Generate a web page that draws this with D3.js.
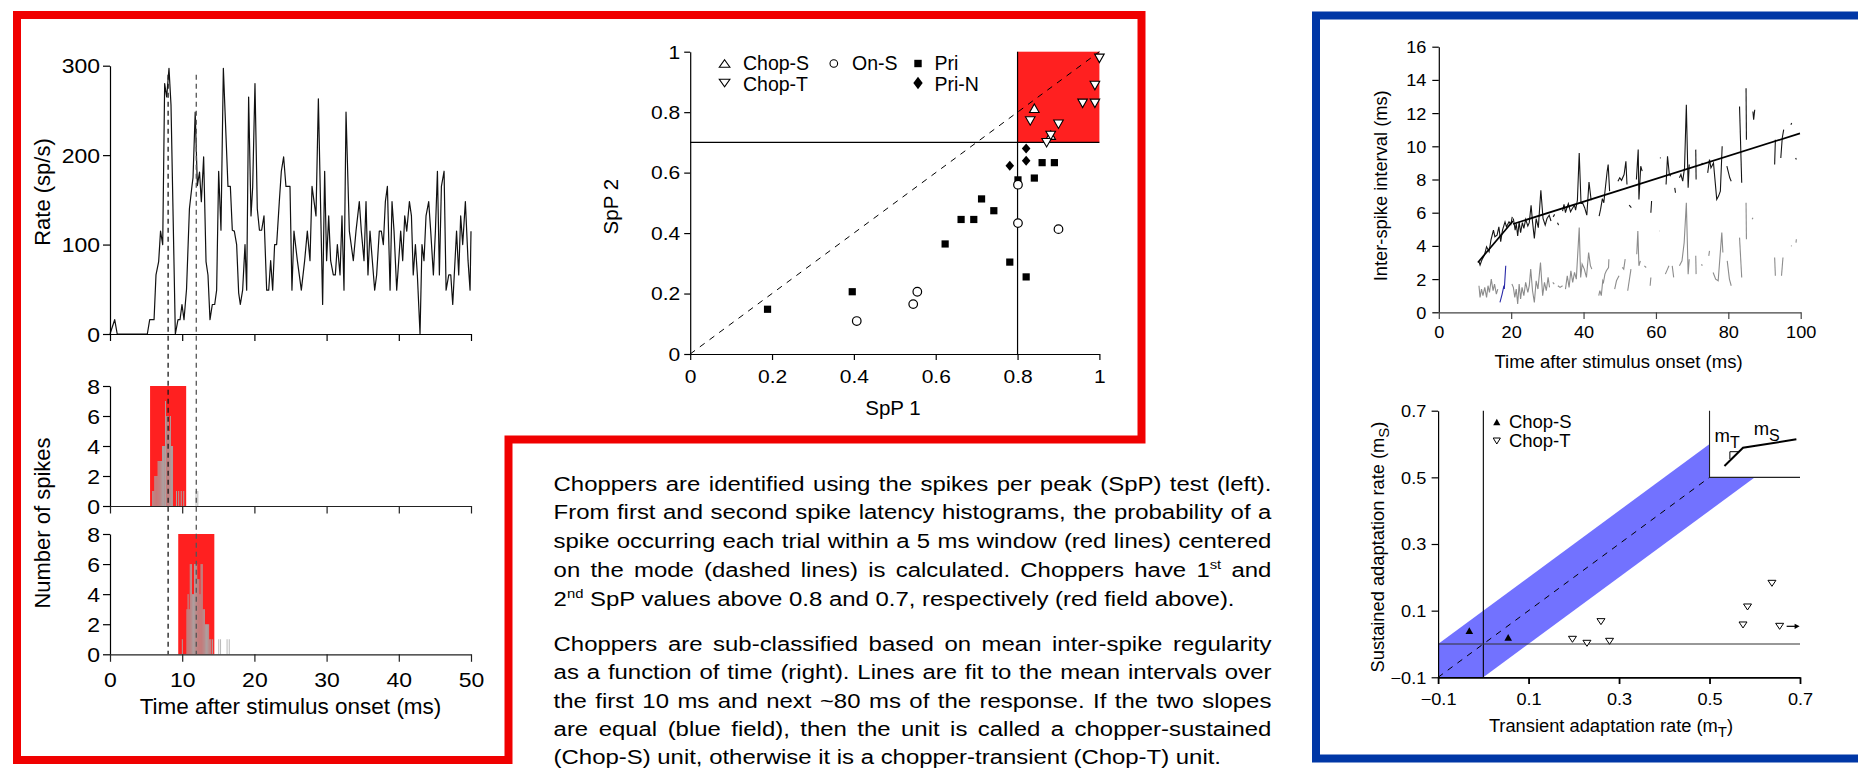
<!DOCTYPE html>
<html>
<head>
<meta charset="utf-8">
<script src="https://cdn.jsdelivr.net/npm/d3@7/dist/d3.min.js"></script>
<style>
  html, body { margin: 0; padding: 0; background: #fff; }
  svg { display: block; }
</style>
</head>
<body>
<script>
// ---------- PSTH (rate vs time) ----------
const psthTime = [0,0.65,1.0,5.17,5.5,6.1,6.37,6.74,7.0,7.3,7.57,7.85,8.17,8.45,9.05,9.42,9.7,9.97,10.25,10.6,11.0,11.36,11.5,11.8,12.1,12.4,12.65,12.97,13.3,13.57,13.85,14.17,14.5,14.77,15.05,15.37,15.7,16.34,16.67,16.94,17.22,17.54,17.82,18.05,18.37,18.7,18.93,19.2,19.53,19.76,20.08,20.4,20.7,21.0,21.33,21.7,21.98,22.25,22.53,22.8,23.08,23.45,23.73,24.05,24.37,24.93,25.2,25.48,25.95,26.5,26.96,27.33,27.7,27.98,28.53,28.86,29.45,29.73,30.0,30.29,30.56,30.93,31.21,31.49,31.86,32.13,32.41,32.69,33.15,33.7,34.07,34.53,34.81,35.18,35.46,35.73,36.01,36.66,36.93,37.3,37.58,37.86,38.14,38.42,38.79,39.06,39.34,39.71,39.99,40.26,40.54,40.82,41.1,41.47,41.75,42.0,42.3,42.57,42.94,43.21,43.49,43.77,44.14,44.42,44.79,45.07,45.35,45.62,45.9,46.27,46.55,46.92,47.2,47.47,48.0,48.3,48.57,48.85,49.22,49.59,49.87,50.0];
const psthRate = [0,16,0,0,16,16,66,81,115,100,280,265,297,256,0,16,16,33,16,50,140,166,175,248,166,181,148,198,81,66,16,33,33,49,182,116,297,165,165,116,115,100,46,33,49,100,49,265,132,164,280,140,116,116,132,49,49,82,49,100,100,148,182,198,165,165,49,115,82,49,82,115,82,165,132,263,33,182,82,132,82,66,66,100,66,132,49,248,115,82,115,148,115,82,148,66,115,49,66,115,115,100,148,165,49,148,115,49,82,115,82,132,115,148,132,66,100,66,0,100,82,132,148,115,66,115,182,66,165,182,49,66,66,33,115,66,132,100,148,82,49,115];
const rateTicks = [0, 100, 200, 300];
const timeTicks = [0, 10, 20, 30, 40, 50];

// ---------- first / second spike latency histograms ----------
const spikeModes = [8.05, 11.95];          // ms, centre of each 5 ms window
const spikeWindow = 5;                     // ms
const hist1Time  = [5.85,6.0,6.15,6.3,6.45,6.6,6.75,6.9,7.05,7.2,7.35,7.5,7.62,7.7,7.85,8.0,8.15,8.3,8.45,8.6,9.15,9.45,9.8,10.15,11.85,12.1];
const hist1Count = [1,1,2,2,2,3,3,3,3,4,4,4,7,6,6,6,5,6,4,4,1,1,1,1,1,1];
const hist2Time  = [9.95,10.6,10.75,10.9,11.05,11.2,11.35,11.5,11.65,11.8,11.95,12.1,12.25,12.4,12.55,12.7,12.85,13.0,13.15,13.3,13.45,13.6,13.75,13.9,14.15,15.0,15.25,16.15,16.45];
const hist2Count = [1,3,4,3,6,6,4,4,6,6,6,5,5,4,6,6,3,3,2,2,2,2,1,1,1,1,1,1,1];
const histBin = 0.15;
const countTicks = [0, 2, 4, 6, 8];

// ---------- SpP scatter ----------
const priX   = [0.189,0.396,0.623,0.662,0.693,0.712,0.742,0.781,0.801,0.821,0.841,0.860,0.890];
const priY   = [0.148,0.206,0.364,0.445,0.445,0.513,0.474,0.304,0.576,0.255,0.582,0.633,0.633];
const onsX   = [0.407,0.545,0.555,0.801,0.801,0.900];
const onsY   = [0.109,0.165,0.206,0.433,0.560,0.413];
const priNX  = [0.781,0.821,0.821];
const priNY  = [0.623,0.680,0.639];
const chopSX = [0.841,0.881];
const chopSY = [0.813,0.724];
const chopTX = [0.831,0.871,0.881,0.900,0.959,0.989,0.989,1.000];
const chopTY = [0.771,0.699,0.723,0.760,0.829,0.829,0.888,0.978];
const sppTicks = [0, 0.2, 0.4, 0.6, 0.8, 1];
const sppCut1 = 0.8, sppCut2 = 0.7;

// ---------- ISI vs time ----------
const isiMeanSegments = [
  [[11.1,3.05],[11.4,2.85],[11.9,3.15],[12.6,3.45],[13.2,3.95],[13.9,3.65],[14.4,4.35],[15.1,4.95],[15.5,4.55],[16.1,4.65],[16.6,5.15],[17.1,4.25],[17.6,4.95],[18.3,5.45],[18.7,5.15],[19.4,5.45],[19.9,5.3],[20.3,5.75]],
  [[20.6,5.65],[21.1,4.95],[21.4,5.35],[21.8,4.6],[22.2,5.45],[22.6,4.8],[23.1,5.4],[23.5,5.05],[24.0,5.6],[24.6,5.2],[25.0,5.4],[25.5,6.45],[25.9,5.45],[26.4,4.45],[26.9,5.65],[27.5,5.1],[28.2,7.35],[28.8,5.65],[29.4,5.25],[29.9,5.65],[30.5,5.85],[31.0,5.5]],
  [[31.6,5.75],[32.0,5.9]],
  [[32.8,5.4],[33.1,5.25]],
  [[34.2,6.1],[34.6,6.5],[35.0,6.0],[35.4,6.3],[35.8,6.55],[36.4,6.05],[36.9,6.25],[37.5,6.45],[37.8,6.15],[38.3,6.75],[38.8,9.6],[39.3,6.55],[39.8,6.55],[40.3,6.3],[40.9,5.85],[41.5,7.85],[42.1,6.75]],
  [[44.3,5.8],[44.7,6.2],[45.2,6.85],[45.6,6.6],[45.9,7.25],[46.5,8.45],[46.8,8.9],[47.2,7.3]],
  [[49.5,7.9],[50.0,8.1],[50.5,7.95],[51.2,8.3],[51.7,9.1],[52.0,7.7]],
  [[52.6,6.45],[53.2,6.3]],
  [[54.6,8.0],[55.1,9.8],[55.3,6.8],[55.8,8.8],[56.2,8.5]],
  [[58.6,6.0],[58.8,6.7]],
  [[61.1,9.3],[61.3,9.3]],
  [[62.8,7.7],[63.2,9.4],[63.7,8.3],[64.1,8.2]],
  [[65.2,7.5],[65.4,7.2]],
  [[66.5,8.1],[66.9,8.3],[67.4,7.9],[67.9,8.7],[68.4,12.5],[68.9,7.5],[69.2,8.9]],
  [[71.0,9.8],[71.1,8.0]],
  [[72.7,9.0],[72.9,8.9]],
  [[74.3,8.4],[74.8,9.2],[75.2,8.7],[75.9,9.0],[76.8,6.8],[77.3,7.0],[77.8,7.3],[78.3,10.0]],
  [[79.6,8.8],[80.4,8.1],[80.8,7.9]],
  [[83.1,12.4],[83.7,7.8]],
  [[84.9,13.5],[85.0,10.4]],
  [[86.8,12.1],[87.0,11.6],[87.3,12.2]],
  [[92.8,8.9],[93.0,10.4]],
  [[94.5,9.3],[94.9,10.5],[95.3,11.0]],
  [[97.3,11.3],[97.5,11.4]],
  [[98.6,9.3],[98.8,9.2]]
];
const isiSdSegments = [
  [[11.1,1.6],[11.4,0.9],[11.8,1.4],[12.2,1.0],[12.7,1.5],[13.2,0.9],[13.6,1.6],[14.0,1.2],[14.5,2.0],[15.0,1.3],[15.4,1.7],[15.9,1.1],[16.3,1.4]],
  [[20.2,1.7],[20.6,1.5],[21.0,0.9],[21.4,1.4],[21.8,0.5],[22.2,1.7],[22.6,0.8],[23.0,1.5],[23.5,1.0],[24.0,1.8],[24.6,1.2],[25.0,1.6],[25.4,2.6],[25.9,1.3],[26.4,0.6],[26.9,1.9],[27.4,1.4],[28.1,3.0],[28.7,1.0],[29.2,1.8],[29.7,1.3],[30.2,2.1],[30.6,1.5]],
  [[31.5,1.8],[31.9,1.7]],
  [[32.9,1.6],[33.5,1.5],[34.2,1.6]],
  [[35.0,1.4],[35.5,2.2],[36.0,1.5],[36.5,2.5],[37.0,1.8],[37.5,2.4],[38.0,2.0],[38.8,5.1],[39.2,2.1],[39.6,2.9],[40.2,2.6],[40.8,2.1],[41.4,3.6],[41.9,2.8],[42.3,2.6]],
  [[44.2,1.0],[44.5,1.3],[44.9,1.0],[45.3,1.9],[45.5,1.8],[45.9,2.3],[46.3,2.5],[46.9,2.7],[47.0,3.2]],
  [[48.6,1.4],[49.1,1.9],[49.8,2.2]],
  [[50.7,2.7],[51.1,2.6],[51.5,3.2]],
  [[52.2,1.3],[53.1,2.6]],
  [[54.7,3.5],[55.0,4.9],[55.3,2.8],[55.7,3.1]],
  [[56.8,2.8],[57.3,2.7]],
  [[58.4,1.6],[58.6,2.1]],
  [[60.9,4.9],[61.0,4.9]],
  [[62.6,2.3],[63.2,2.6],[63.6,2.8]],
  [[64.5,2.8],[64.9,2.1]],
  [[66.5,2.8],[67.2,3.1],[67.8,4.2],[68.4,6.6],[68.9,2.3],[69.2,3.2]],
  [[71.0,3.4],[71.1,2.3]],
  [[72.6,2.9],[72.8,2.8]],
  [[74.6,3.4],[74.8,3.7]],
  [[75.8,2.4],[76.5,2.0],[77.2,1.9],[78.2,4.8],[78.5,3.6]],
  [[79.7,3.1],[80.3,2.0],[80.8,1.6]],
  [[83.1,4.5],[83.7,2.1]],
  [[84.9,6.6],[85.0,4.4]],
  [[86.6,5.6],[86.8,5.7]],
  [[92.8,3.3],[93.0,2.2]],
  [[94.7,2.2],[95.1,3.3]],
  [[97.3,4.0],[97.5,4.0]],
  [[98.7,4.2],[98.8,4.4]]
];
const isiHighlight = [[16.9,0.6],[17.5,1.1],[18.0,1.6],[18.1,1.4],[18.5,2.8]];
const fitTransientT = [10.8, 20.5];
const fitTransientISI = [3.0, 5.5];
const fitSustainedT = [20.5, 99.8];
const fitSustainedISI = [5.32, 10.78];
const isiTicks = [0, 2, 4, 6, 8, 10, 12, 14, 16];
const isiTimeTicks = [0, 20, 40, 60, 80, 100];

// ---------- adaptation rates ----------
const adaptSX = [-0.031, 0.055];
const adaptSY = [0.040, 0.020];
const adaptTX = [0.197, 0.229, 0.279, 0.260, 0.574, 0.584, 0.638, 0.655];
const adaptTY = [0.014, 0.002, 0.008, 0.067, 0.057, 0.111, 0.182, 0.053];
const adaptTicks = [-0.1, 0.1, 0.3, 0.5, 0.7];
const bandHalfWidth = 0.1;
const insetCurveX = [0.533, 0.574, 0.692];
const insetCurveY = [0.534, 0.589, 0.614];

// ---------- text ----------
const paragraph1 = [
  {parts: [["Choppers are identified using the spikes per peak (SpP) test (left)."]], justify: true},
  {parts: [["From first and second spike latency histograms, the probability of a"]], justify: true},
  {parts: [["spike occurring each trial within a 5 ms window (red lines) centered"]], justify: true},
  {parts: [["on the mode (dashed lines) is calculated. Choppers have 1"], ["st", "sup"], [" and"]], justify: true},
  {parts: [["2"], ["nd", "sup"], [" SpP values above 0.8 and 0.7, respectively (red field above)."]], justify: false}
];
const paragraph2 = [
  {parts: [["Choppers are sub-classified based on mean inter-spike regularity"]], justify: true},
  {parts: [["as a function of time (right). Lines are fit to the mean intervals over"]], justify: true},
  {parts: [["the first 10 ms and next ~80 ms of the response. If the two slopes"]], justify: true},
  {parts: [["are equal (blue field), then the unit is called a chopper-sustained"]], justify: true},
  {parts: [["(Chop-S) unit, otherwise it is a chopper-transient (Chop-T) unit."]], justify: false}
];

// =====================================================================
const F = "'Liberation Sans', Arial, Helvetica, sans-serif";
const RED = "#f00000", FIELD_RED = "#ff2020", BLUE = "#0037a6", BAND = "#7272ff";

const svg = d3.select("body").append("svg")
  .attr("width", 1858).attr("height", 769)
  .style("background", "#fff");

function styleAxis(g, o) {
  g.attr("font-family", F).attr("font-size", o.size);
  g.selectAll("path.domain").attr("stroke", o.color || "#000").attr("stroke-width", o.width || 1.2);
  g.selectAll(".tick line").attr("stroke", o.color || "#000").attr("stroke-width", o.width || 1.2);
  g.selectAll(".tick text").attr("fill", "#000");
}
function leftAxis(g, scale, ticks, fmt, o) {
  g.call(d3.axisLeft(scale).tickValues(ticks).tickFormat(fmt).tickSize(o.tick).tickSizeOuter(0));
  styleAxis(g, o);
  const sx = o.sx || 1;
  g.selectAll(".tick text")
    .attr("x", -o.off / sx).attr("dy", "0.36em")
    .attr("transform", `scale(${sx},1)`);
}
function bottomAxis(g, scale, ticks, fmt, o) {
  g.call(d3.axisBottom(scale).tickValues(ticks).tickFormat(fmt).tickSize(o.tick).tickSizeOuter(0));
  styleAxis(g, o);
  const sx = o.sx || 1;
  if (fmt === null || o.noLabels) g.selectAll(".tick text").remove();
  else g.selectAll(".tick text").attr("y", o.off).attr("dy", 0).attr("transform", `scale(${sx},1)`);
}
function text(x, y, str, size, anchor, rot) {
  const t = svg.append("text")
    .attr("font-family", F).attr("font-size", size).attr("fill", "#000")
    .attr("text-anchor", anchor || "start");
  if (rot) t.attr("transform", `translate(${x},${y}) rotate(${rot})`);
  else t.attr("x", x).attr("y", y);
  if (typeof str === "string") t.text(str);
  return t;
}
function triPath(w, h, down) {
  return down ? `M${-w},${-h / 2}L${w},${-h / 2}L0,${h / 2}Z` : `M0,${-h / 2}L${w},${h / 2}L${-w},${h / 2}Z`;
}

// ---------- frames ----------
svg.append("path")
  .attr("d", "M17,15 H1141.5 V439.5 H508.5 V760 H17 Z")
  .attr("fill", "none").attr("stroke", RED).attr("stroke-width", 8).attr("stroke-linejoin", "miter");
svg.append("rect")
  .attr("x", 1316).attr("y", 15.5).attr("width", 600).attr("height", 743)
  .attr("fill", "none").attr("stroke", BLUE).attr("stroke-width", 8);

// =====================================================================
// Left panel: PSTH + latency histograms
const xT = d3.scaleLinear().domain([0, 50]).range([110, 471]);
const yRate = d3.scaleLinear().domain([0, 300]).range([334, 65.7]);
const yH1 = d3.scaleLinear().domain([0, 8]).range([506, 386]);
const yH2 = d3.scaleLinear().domain([0, 8]).range([654.3, 534]);

// PSTH
svg.append("path")
  .attr("d", d3.line().x((d, i) => xT(psthTime[i])).y((d, i) => yRate(psthRate[i]))(psthTime))
  .attr("fill", "none").attr("stroke", "#111").attr("stroke-width", 1.2).attr("stroke-linejoin", "round");
leftAxis(svg.append("g").attr("transform", `translate(${xT(0)},0)`), yRate, rateTicks, d3.format("d"),
  {tick: 7, off: 10, size: 20, sx: 1.15});
bottomAxis(svg.append("g").attr("transform", `translate(0,${yRate(0)})`), xT, timeTicks, null,
  {tick: 7, size: 20, noLabels: true});

// histograms
function histogram(yS, times, counts, mode, showLabels) {
  const g = svg.append("g");
  g.append("rect")
    .attr("x", xT(mode - spikeWindow / 2)).attr("width", xT(mode + spikeWindow / 2) - xT(mode - spikeWindow / 2))
    .attr("y", yS(8)).attr("height", yS(0) - yS(8))
    .attr("fill", FIELD_RED);
  g.selectAll("rect.bar").data(times).join("rect").attr("class", "bar")
    .attr("x", t => xT(t))
    .attr("width", xT(histBin) - xT(0) - 0.15)
    .attr("y", (t, i) => yS(counts[i]))
    .attr("height", (t, i) => yS(0) - yS(counts[i]))
    .attr("fill", (t, i) => (t < mode - spikeWindow / 2 || t > mode + spikeWindow / 2) ? "#b4b4b4" : "#a8a8a8");
  leftAxis(svg.append("g").attr("transform", `translate(${xT(0)},0)`), yS, countTicks, d3.format("d"),
    {tick: 7, off: 10, size: 20, sx: 1.15});
  bottomAxis(svg.append("g").attr("transform", `translate(0,${yS(0)})`), xT, timeTicks,
    showLabels ? d3.format("d") : null,
    {tick: 7.5, off: 32.4, size: 20, sx: 1.15, color: "#222", noLabels: !showLabels});
}
histogram(yH1, hist1Time, hist1Count, spikeModes[0], false);
histogram(yH2, hist2Time, hist2Count, spikeModes[1], true);

// dashed mode lines through all three plots
svg.selectAll("line.mode").data(spikeModes).join("line").attr("class", "mode")
  .attr("x1", d => xT(d)).attr("x2", d => xT(d))
  .attr("y1", yRate(290)).attr("y2", yH2(0))
  .attr("stroke", (d, i) => i === 0 ? "#1a1a1a" : "#555")
  .attr("stroke-width", 1.3).attr("stroke-dasharray", "5,4");

text(50, 192, "Rate (sp/s)", 22, "middle", -90);
text(50, 523, "Number of spikes", 22, "middle", -90);
text(290.5, 714, "Time after stimulus onset (ms)", 22.5, "middle");

// =====================================================================
// SpP scatter
const xS = d3.scaleLinear().domain([0, 1]).range([690.2, 1099.4]);
const yS = d3.scaleLinear().domain([0, 1]).range([354, 51.7]);

svg.append("rect")
  .attr("x", xS(sppCut1)).attr("y", yS(1))
  .attr("width", xS(1) - xS(sppCut1)).attr("height", yS(sppCut2) - yS(1))
  .attr("fill", FIELD_RED);
svg.append("line").attr("x1", xS(0)).attr("x2", xS(1)).attr("y1", yS(sppCut2)).attr("y2", yS(sppCut2))
  .attr("stroke", "#000").attr("stroke-width", 1.2);
svg.append("line").attr("x1", xS(sppCut1)).attr("x2", xS(sppCut1)).attr("y1", yS(0)).attr("y2", yS(1))
  .attr("stroke", "#000").attr("stroke-width", 1.2);
svg.append("line").attr("x1", xS(0)).attr("y1", yS(0)).attr("x2", xS(1)).attr("y2", yS(1))
  .attr("stroke", "#000").attr("stroke-width", 1).attr("stroke-dasharray", "6,6");

const sppFmt = d => (d === 0 || d === 1) ? String(d) : d.toFixed(1);
leftAxis(svg.append("g").attr("transform", `translate(${xS(0)},0)`), yS, sppTicks, sppFmt,
  {tick: 6, off: 10, size: 17.5, sx: 1.2});
bottomAxis(svg.append("g").attr("transform", `translate(0,${yS(0)})`), xS, sppTicks, sppFmt,
  {tick: 6, off: 29.3, size: 17.5, sx: 1.2});

// points
const sq = 7.2;
svg.selectAll("rect.pri").data(priX).join("rect").attr("class", "pri")
  .attr("x", (d, i) => xS(priX[i]) - sq / 2).attr("y", (d, i) => yS(priY[i]) - sq / 2)
  .attr("width", sq).attr("height", sq).attr("fill", "#000");
svg.selectAll("path.prin").data(priNX).join("path").attr("class", "prin")
  .attr("transform", (d, i) => `translate(${xS(priNX[i])},${yS(priNY[i])})`)
  .attr("d", "M0,-5L4.3,0L0,5L-4.3,0Z").attr("fill", "#000");
svg.selectAll("circle.ons").data(onsX).join("circle").attr("class", "ons")
  .attr("cx", (d, i) => xS(onsX[i])).attr("cy", (d, i) => yS(onsY[i])).attr("r", 4.3)
  .attr("fill", "#fff").attr("stroke", "#000").attr("stroke-width", 1.2);
svg.selectAll("path.chopS").data(chopSX).join("path").attr("class", "chopS")
  .attr("transform", (d, i) => `translate(${xS(chopSX[i])},${yS(chopSY[i])})`)
  .attr("d", triPath(4.8, 8.5, false)).attr("fill", "#fff").attr("stroke", "#000").attr("stroke-width", 1.1);
svg.selectAll("path.chopT").data(chopTX).join("path").attr("class", "chopT")
  .attr("transform", (d, i) => `translate(${xS(chopTX[i])},${yS(chopTY[i])})`)
  .attr("d", triPath(4.8, 8.5, true)).attr("fill", "#fff").attr("stroke", "#000").attr("stroke-width", 1.1);

// legend
const lg = svg.append("g");
lg.append("path").attr("transform", "translate(724.6,63.5)").attr("d", triPath(5.3, 7.5, false))
  .attr("fill", "#fff").attr("stroke", "#000").attr("stroke-width", 1.1);
lg.append("path").attr("transform", "translate(724.6,83)").attr("d", triPath(5.3, 7.5, true))
  .attr("fill", "#fff").attr("stroke", "#000").attr("stroke-width", 1.1);
lg.append("circle").attr("cx", 833.8).attr("cy", 63.5).attr("r", 3.8)
  .attr("fill", "#fff").attr("stroke", "#000").attr("stroke-width", 1.1);
lg.append("rect").attr("x", 918 - 3.7).attr("y", 63.5 - 3.7).attr("width", 7.4).attr("height", 7.4).attr("fill", "#000");
lg.append("path").attr("transform", "translate(918,83)").attr("d", "M0,-6.3L4.7,0L0,6.3L-4.7,0Z").attr("fill", "#000");
text(743, 70, "Chop-S", 19.5);
text(743, 90.7, "Chop-T", 19.5);
text(852, 70, "On-S", 19.5);
text(934.4, 70, "Pri", 19.5);
text(934.4, 90.7, "Pri-N", 19.5);

text(893, 415, "SpP 1", 20.5, "middle");
text(618, 206.7, "SpP 2", 20.5, "middle", -90);

// =====================================================================
// Description text (fully justified, slightly wide glyphs)
function paragraph(lines, x0, y0, lh) {
  const target = 717.8, sx = 1.14;
  lines.forEach((ln, i) => {
    const t = svg.append("text")
      .attr("transform", `translate(${x0},${y0 + i * lh}) scale(${sx},1)`)
      .attr("font-family", F).attr("font-size", 21).attr("fill", "#000")
      .attr("xml:space", "preserve");
    let full = "";
    let raised = false;
    ln.parts.forEach(p => {
      const ts = t.append("tspan").text(p[0]);
      if (p[1] === "sup") { ts.attr("font-size", 13).attr("dy", -8); raised = true; }
      else if (raised) { ts.attr("dy", 8); raised = false; }
      full += p[0];
    });
    if (ln.justify) {
      const natural = t.node().getComputedTextLength();
      const spaces = (full.match(/ /g) || []).length;
      const ws = (target / sx - natural) / spaces;
      if (ws >= 0) t.attr("word-spacing", ws);
      else t.attr("textLength", target / sx).attr("lengthAdjust", "spacingAndGlyphs");
    }
  });
}
paragraph(paragraph1, 553.6, 490.7, 28.75);
paragraph(paragraph2, 553.6, 650.7, 28.4);

// =====================================================================
// ISI vs time
const xI = d3.scaleLinear().domain([0, 100]).range([1438.8, 1800.7]);
const yI = d3.scaleLinear().domain([0, 16]).range([312.3, 46.7]);
const segLine = d3.line().x(d => xI(d[0])).y(d => yI(d[1]));

svg.selectAll("path.isiSd").data(isiSdSegments).join("path").attr("class", "isiSd")
  .attr("d", segLine).attr("fill", "none").attr("stroke", "#8c8c8c").attr("stroke-width", 1.1);
svg.append("path").attr("d", segLine(isiHighlight))
  .attr("fill", "none").attr("stroke", "#2a2aa8").attr("stroke-width", 1.1);
svg.selectAll("path.isiMean").data(isiMeanSegments).join("path").attr("class", "isiMean")
  .attr("d", segLine).attr("fill", "none").attr("stroke", "#151515").attr("stroke-width", 1.1);
svg.append("path")
  .attr("d", segLine(fitTransientT.map((t, i) => [t, fitTransientISI[i]])))
  .attr("fill", "none").attr("stroke", "#000").attr("stroke-width", 1.7);
svg.append("path")
  .attr("d", segLine(fitSustainedT.map((t, i) => [t, fitSustainedISI[i]])))
  .attr("fill", "none").attr("stroke", "#000").attr("stroke-width", 1.7);

leftAxis(svg.append("g").attr("transform", `translate(${xI(0)},0)`), yI, isiTicks, d3.format("d"),
  {tick: 6.5, off: 12.5, size: 16.5, sx: 1.1});
bottomAxis(svg.append("g").attr("transform", `translate(0,${yI(0)})`), xI, isiTimeTicks, d3.format("d"),
  {tick: 6.7, off: 25.7, size: 16.5, sx: 1.1, color: "#444"});
text(1618.5, 368, "Time after stimulus onset (ms)", 18.5, "middle");
text(1387, 185.8, "Inter-spike interval (ms)", 18.3, "middle", -90);

// =====================================================================
// Adaptation rates
const xA = d3.scaleLinear().domain([-0.1, 0.7]).range([1438.1, 1800]);
const yA = d3.scaleLinear().domain([-0.1, 0.7]).range([677.3, 410.7]);

// band where the two slopes are equal (clipped to the plot)
svg.append("clipPath").attr("id", "adaptClip").append("rect")
  .attr("x", xA(-0.1)).attr("y", yA(0.7)).attr("width", xA(0.7) - xA(-0.1)).attr("height", yA(-0.1) - yA(0.7));
const bandPts = [[-0.1, -0.1 + bandHalfWidth], [0.7 - bandHalfWidth, 0.7], [0.7, 0.7],
  [0.7, 0.7 - bandHalfWidth], [-0.1 + bandHalfWidth, -0.1], [-0.1, -0.1]];
svg.append("path").attr("clip-path", "url(#adaptClip)")
  .attr("d", d3.line().x(d => xA(d[0])).y(d => yA(d[1]))(bandPts) + "Z")
  .attr("fill", BAND);
svg.append("line").attr("x1", xA(-0.1)).attr("y1", yA(-0.1)).attr("x2", xA(0.5)).attr("y2", yA(0.5))
  .attr("stroke", "#000").attr("stroke-width", 1).attr("stroke-dasharray", "6,6");

// inset sketch
svg.append("rect").attr("x", xA(0.5)).attr("y", yA(0.7) - 1)
  .attr("width", xA(0.7) - xA(0.5) + 2).attr("height", yA(0.5) - yA(0.7) + 1).attr("fill", "#fff");
svg.append("path")
  .attr("d", `M${xA(0.5)},${yA(0.7)}V${yA(0.5)}H${xA(0.7)}`)
  .attr("fill", "none").attr("stroke", "#222").attr("stroke-width", 1.1);
svg.append("path")
  .attr("d", d3.line().x((d, i) => xA(insetCurveX[i])).y((d, i) => yA(insetCurveY[i]))(insetCurveX))
  .attr("fill", "none").attr("stroke", "#000").attr("stroke-width", 2);
svg.append("path")
  .attr("d", `M${xA(0.545)},${yA(0.555)}V${yA(0.577)}H${xA(0.564)}`)
  .attr("fill", "none").attr("stroke", "#000").attr("stroke-width", 1);
const mT = text(1714.6, 441.7, null, 18.5);
mT.append("tspan").text("m");
mT.append("tspan").text("T").attr("font-size", 16).attr("dy", 6);
const mS = text(1753.7, 435, null, 18.5);
mS.append("tspan").text("m");
mS.append("tspan").text("S").attr("font-size", 16).attr("dy", 6);

// reference lines
svg.append("line").attr("x1", xA(0)).attr("x2", xA(0)).attr("y1", yA(-0.1)).attr("y2", yA(0.7))
  .attr("stroke", "#000").attr("stroke-width", 1.1);
svg.append("line").attr("x1", xA(-0.1)).attr("x2", xA(0.7)).attr("y1", yA(0)).attr("y2", yA(0))
  .attr("stroke", "#333").attr("stroke-width", 1.1);

// points
svg.selectAll("path.aS").data(adaptSX).join("path").attr("class", "aS")
  .attr("transform", (d, i) => `translate(${xA(adaptSX[i])},${yA(adaptSY[i])})`)
  .attr("d", triPath(3.8, 6.8, false)).attr("fill", "#000");
svg.selectAll("path.aT").data(adaptTX).join("path").attr("class", "aT")
  .attr("transform", (d, i) => `translate(${xA(adaptTX[i])},${yA(adaptTY[i])})`)
  .attr("d", triPath(4, 6, true)).attr("fill", "#fff").attr("stroke", "#000").attr("stroke-width", 1);
// off-scale marker arrow
const lastT = adaptTX.length - 1;
svg.append("line")
  .attr("x1", xA(adaptTX[lastT]) + 7).attr("x2", xA(adaptTX[lastT]) + 16)
  .attr("y1", yA(adaptTY[lastT])).attr("y2", yA(adaptTY[lastT]))
  .attr("stroke", "#000").attr("stroke-width", 1.2);
svg.append("path")
  .attr("transform", `translate(${xA(adaptTX[lastT]) + 20},${yA(adaptTY[lastT])})`)
  .attr("d", "M0,0L-5,-2.6L-5,2.6Z").attr("fill", "#000");

leftAxis(svg.append("g").attr("transform", `translate(${xA(-0.1)},0)`), yA, adaptTicks, d3.format(".1f"),
  {tick: 6.5, off: 11.8, size: 16.5, sx: 1.1});
bottomAxis(svg.append("g").attr("transform", `translate(0,${yA(-0.1)})`), xA, adaptTicks, d3.format(".1f"),
  {tick: 6.7, off: 27.7, size: 16.5, sx: 1.1, width: 1.8});

// legend
svg.append("path").attr("transform", "translate(1496.8,422)").attr("d", triPath(3.6, 6.5, false)).attr("fill", "#000");
svg.append("path").attr("transform", "translate(1496.8,441)").attr("d", triPath(3.6, 6, true))
  .attr("fill", "#fff").attr("stroke", "#000").attr("stroke-width", 1);
text(1508.9, 428.3, "Chop-S", 18.5);
text(1508.9, 447.3, "Chop-T", 18.5);

const tx = text(1611, 731.7, null, 18.3, "middle");
tx.append("tspan").text("Transient adaptation rate (m");
tx.append("tspan").text("T").attr("font-size", 15).attr("dy", 5);
tx.append("tspan").text(")").attr("dy", -5);
const ty = text(1384, 547, null, 18.3, "middle", -90);
ty.append("tspan").text("Sustained adaptation rate (m");
ty.append("tspan").text("S").attr("font-size", 15).attr("dy", 5);
ty.append("tspan").text(")").attr("dy", -5);
</script>
</body>
</html>
